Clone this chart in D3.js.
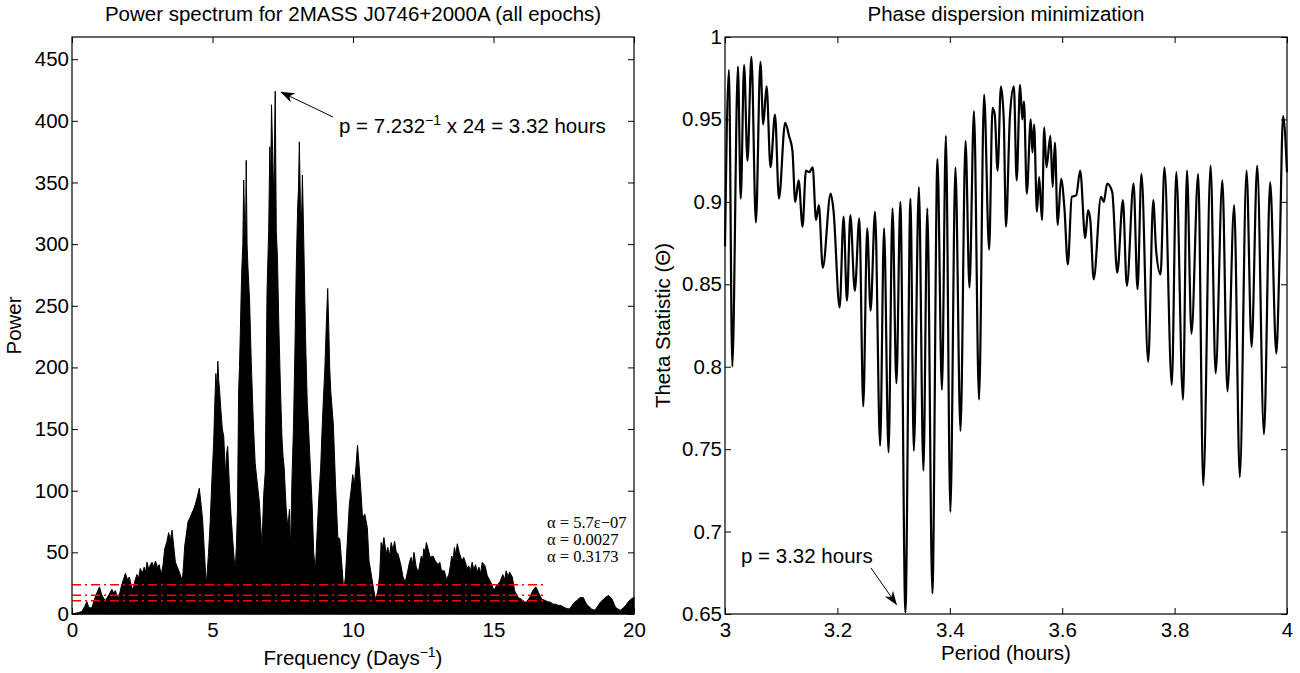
<!DOCTYPE html>
<html>
<head>
<meta charset="utf-8">
<script src="https://cdn.jsdelivr.net/npm/d3@7"></script>
<style>
  body { margin: 0; background: #fff; }
  text { font-family: "Liberation Sans", Arial, Helvetica, sans-serif; fill: #000; }
</style>
</head>
<body>
<script>
// 左圖: 功率譜 (frequency, power)
const specFreq = [0.00,0.20,0.35,0.45,0.53,0.60,0.71,0.80,0.90,0.98,1.05,1.12,1.19,1.30,1.42,1.48,1.54,1.60,1.66,1.75,
  1.83,1.90,1.97,2.04,2.10,2.17,2.24,2.31,2.37,2.43,2.50,2.57,2.62,2.67,2.73,2.79,2.85,2.91,2.97,3.04,
  3.10,3.18,3.24,3.30,3.37,3.44,3.50,3.56,3.62,3.68,3.75,3.82,3.88,3.93,3.97,4.01,4.07,4.13,4.20,4.27,
  4.33,4.39,4.46,4.53,4.58,4.65,4.70,4.74,4.78,4.80,4.86,4.92,4.98,5.04,5.08,5.12,5.16,5.19,5.22,5.25,
  5.30,5.35,5.40,5.46,5.50,5.54,5.58,5.61,5.66,5.72,5.77,5.81,5.85,5.89,5.93,5.96,5.99,6.02,6.05,6.08,
  6.11,6.14,6.17,6.20,6.23,6.26,6.32,6.38,6.46,6.52,6.58,6.67,6.72,6.76,6.82,6.88,6.91,6.94,7.00,7.04,
  7.07,7.10,7.14,7.18,7.232,7.27,7.31,7.36,7.41,7.47,7.51,7.55,7.62,7.68,7.74,7.78,7.83,7.88,7.93,7.98,
  8.03,8.06,8.09,8.13,8.17,8.20,8.25,8.31,8.37,8.42,8.46,8.55,8.60,8.66,8.72,8.79,8.85,8.90,8.94,9.00,
  9.05,9.10,9.14,9.17,9.21,9.30,9.38,9.46,9.53,9.61,9.67,9.73,9.80,9.87,9.93,9.99,10.05,10.11,10.16,10.20,
  10.28,10.34,10.42,10.51,10.57,10.63,10.72,10.80,10.88,10.95,11.00,11.05,11.10,11.18,11.24,11.30,11.36,11.42,11.48,11.54,
  11.60,11.70,11.78,11.86,11.95,12.01,12.07,12.12,12.17,12.25,12.33,12.43,12.48,12.52,12.57,12.61,12.67,12.75,12.85,12.93,
  13.03,13.09,13.15,13.25,13.33,13.41,13.47,13.51,13.56,13.61,13.66,13.71,13.78,13.88,13.94,14.00,14.06,14.12,14.18,14.24,
  14.30,14.36,14.42,14.48,14.54,14.60,14.70,14.78,14.90,15.02,15.08,15.14,15.23,15.33,15.40,15.45,15.52,15.57,15.67,15.75,
  15.87,15.99,16.08,16.17,16.29,16.42,16.51,16.60,16.72,16.84,16.93,17.03,17.12,17.21,17.30,17.39,17.51,17.60,17.70,17.80,
  17.88,17.97,18.06,18.19,18.31,18.40,18.49,18.61,18.73,18.82,18.92,19.01,19.10,19.22,19.34,19.43,19.52,19.62,19.71,19.80,
  19.89,20.00];
const specPower = [0,1,2,6,10,5,5,12,18,22,16,13,11,15,20,17,19,15,13,22,
  28,33,28,30,24,19,27,32,29,37,33,38,34,42,36,40,42,38,43,38,
  40,32,40,53,58,66,60,68,55,42,38,34,30,27,40,55,65,75,78,82,
  85,89,95,102,92,76,55,39,25,30,50,76,110,138,170,195,180,205,190,182,
  165,150,144,113,130,136,115,100,80,60,45,36,55,86,181,200,228,260,284,300,
  352,320,293,368,300,282,254,204,151,122,109,90,70,55,96,116,190,261,312,379,
  345,413,375,335,424,310,290,235,190,144,128,119,86,70,85,51,111,150,210,280,
  330,345,383,330,320,356,300,225,173,150,130,86,50,35,65,97,119,150,171,200,
  235,264,230,200,180,154,104,62,61,38,19,30,60,89,100,113,105,121,137,126,
  100,78,81,70,43,35,22,12,18,32,58,54,62,49,54,47,58,52,59,50,
  49,40,30,26,35,42,46,40,50,38,34,47,44,53,50,58,53,46,47,43,
  40,42,35,35,28,32,40,47,44,54,48,57,50,43,46,42,37,39,35,42,
  36,40,34,38,33,42,39,31,26,19,22,24,26,32,28,35,30,34,30,19,
  13.5,12,10,9.5,13.5,20,22,17.5,12,11,10,9.5,8,8,7,7,5.4,4.5,4,7,
  9.5,11,13,13.5,8,6,4,3,7,10,12,14,15,12,5.4,4,3,5,7,10,
  12,13.5];

// 顯著水準線 (alpha, power level)
const alphaLabels = ['α = 5.7ε−07', 'α = 0.0027', 'α = 0.3173'];
const alphaLevels = [23.7, 15.2, 10.8];
const alphaEndFreq = 16.9;

// 右圖: PDM (period in hours, theta)
const pdmPeriod = [3.000,3.007,3.013,3.023,3.028,3.034,3.040,3.047,3.055,3.063,3.068,3.074,3.081,3.089,3.096,3.107,3.114,3.120,3.125,3.131,
  3.138,3.144,3.150,3.156,3.162,3.167,3.174,3.188,3.193,3.204,3.211,3.217,3.223,3.231,3.239,3.246,3.253,3.259,3.267,3.276,
  3.283,3.291,3.298,3.305,3.312,3.321,3.330,3.336,3.345,3.353,3.360,3.369,3.378,3.386,3.393,3.401,3.410,3.419,3.428,3.435,
  3.443,3.452,3.461,3.470,3.476,3.480,3.485,3.491,3.496,3.500,3.507,3.514,3.519,3.525,3.529,3.532,3.537,3.544,3.547,3.550,
  3.555,3.559,3.564,3.568,3.572,3.579,3.583,3.587,3.592,3.598,3.604,3.610,3.617,3.625,3.632,3.641,3.646,3.650,3.656,3.669,
  3.674,3.680,3.689,3.698,3.708,3.715,3.727,3.734,3.741,3.753,3.762,3.767,3.775,3.782,3.795,3.803,3.815,3.822,3.830,3.842,
  3.851,3.864,3.873,3.885,3.894,3.906,3.916,3.928,3.937,3.947,3.959,3.970,3.981,3.987,3.993,4.000];
const pdmTheta = [0.873,0.980,0.800,0.982,0.902,0.983,0.925,0.988,0.8875,0.985,0.947,0.970,0.921,0.953,0.902,0.948,0.940,0.931,0.900,0.913,
  0.885,0.919,0.918,0.921,0.889,0.898,0.860,0.905,0.895,0.836,0.891,0.840,0.892,0.846,0.890,0.776,0.884,0.834,0.894,0.752,
  0.884,0.748,0.896,0.790,0.900,0.651,0.902,0.749,0.909,0.737,0.896,0.6625,0.926,0.786,0.940,0.712,0.921,0.761,0.937,0.848,
  0.955,0.780,0.965,0.871,0.957,0.953,0.919,0.970,0.950,0.885,0.952,0.970,0.913,0.971,0.950,0.961,0.905,0.950,0.930,0.947,
  0.894,0.915,0.889,0.945,0.921,0.940,0.909,0.936,0.886,0.914,0.896,0.862,0.903,0.904,0.919,0.878,0.895,0.889,0.853,0.903,
  0.900,0.911,0.906,0.857,0.901,0.849,0.911,0.847,0.917,0.803,0.901,0.871,0.856,0.921,0.789,0.918,0.780,0.919,0.820,0.917,
  0.728,0.922,0.796,0.913,0.785,0.898,0.733,0.919,0.812,0.922,0.759,0.912,0.808,0.870,0.952,0.918];

// 刻度
const specXTicks = [0, 5, 10, 15, 20];
const specYTicks = [0, 50, 100, 150, 200, 250, 300, 350, 400, 450];
const pdmXTicks = [3, 3.2, 3.4, 3.6, 3.8, 4];
const pdmYTicks = [0.65, 0.7, 0.75, 0.8, 0.85, 0.9, 0.95, 1];

const FONT = 20.5;
const svg = d3.select('body').append('svg').attr('width', 1300).attr('height', 673);

// arrow head marker
svg.append('defs').append('marker')
  .attr('id', 'head').attr('viewBox', '0 0 14 10')
  .attr('refX', 13).attr('refY', 5)
  .attr('markerWidth', 14).attr('markerHeight', 10)
  .attr('markerUnits', 'userSpaceOnUse').attr('orient', 'auto')
  .append('path').attr('d', 'M0,0 L14,5 L0,10 L4,5 Z').attr('fill', '#000');

const fmt = d => String(+d.toFixed(2));

// 畫座標框與刻度 (刻度朝內, 四邊)
function drawAxes(g, x, y, xt, yt, w, h) {
  g.append('g').attr('transform', `translate(0,${h})`)
    .call(d3.axisBottom(x).tickValues(xt).tickFormat(fmt).tickSizeInner(-6).tickSizeOuter(0).tickPadding(8));
  g.append('g')
    .call(d3.axisTop(x).tickValues(xt).tickFormat('').tickSizeInner(-6).tickSizeOuter(0));
  g.append('g')
    .call(d3.axisLeft(y).tickValues(yt).tickFormat(fmt).tickSizeInner(-6).tickSizeOuter(0).tickPadding(3));
  g.append('g').attr('transform', `translate(${w},0)`)
    .call(d3.axisRight(y).tickValues(yt).tickFormat('').tickSizeInner(-6).tickSizeOuter(0));
  g.selectAll('.domain').remove();
  g.selectAll('.tick line').attr('stroke', '#000');
  g.selectAll('.tick text').style('font-size', FONT + 'px').attr('fill', '#000');
  g.append('rect').attr('width', w).attr('height', h)
    .attr('fill', 'none').attr('stroke', '#000').attr('stroke-width', 1.2);
}

// ---------- 左圖 ----------
function drawSpectrum() {
  const m = {left: 72, top: 37}, w = 562, h = 577;
  const g = svg.append('g').attr('transform', `translate(${m.left},${m.top})`);
  const x = d3.scaleLinear().domain([0, 20]).range([0, w]);
  const y = d3.scaleLinear().domain([0, 468]).range([h, 0]);
  const data = specFreq.map((f, i) => ({f: f, p: specPower[i]}));

  g.append('path').datum(data)
    .attr('d', d3.area().x(d => x(d.f)).y0(h).y1(d => y(d.p)))
    .attr('fill', '#000').attr('stroke', '#000').attr('stroke-width', 1);

  // alpha levels
  g.selectAll('.alpha').data(alphaLevels).enter().append('line')
    .attr('x1', x(0)).attr('x2', x(alphaEndFreq))
    .attr('y1', d => y(d)).attr('y2', d => y(d))
    .attr('stroke', '#ff0000').attr('stroke-width', 1.5)
    .attr('stroke-dasharray', '9,4,2,4');

  drawAxes(g, x, y, specXTicks, specYTicks, w, h);

  g.selectAll('.alpha-label').data(alphaLabels).enter().append('text')
    .attr('x', 475).attr('y', (d, i) => 491 + i * 17)
    .style('font-family', '"Liberation Serif", "Times New Roman", serif')
    .style('font-size', '16.5px').text(d => d);

  // 峰值標註
  const pk = d3.greatestIndex(specPower);
  g.append('line')
    .attr('x1', 261).attr('y1', 80)
    .attr('x2', x(specFreq[pk]) + 6).attr('y2', y(specPower[pk]) + 1)
    .attr('stroke', '#000').attr('stroke-width', 1).attr('marker-end', 'url(#head)');
  const t = g.append('text').attr('x', 267).attr('y', 96).style('font-size', FONT + 'px');
  t.append('tspan').text('p = 7.232');
  t.append('tspan').attr('dy', -8).style('font-size', '14px').text('−1');
  t.append('tspan').attr('dy', 8).text(' x 24 = 3.32 hours');

  // title & labels
  svg.append('text').attr('x', m.left + w / 2).attr('y', 21).attr('text-anchor', 'middle')
    .style('font-size', FONT + 'px').text('Power spectrum for 2MASS J0746+2000A (all epochs)');
  const xl = svg.append('text').attr('x', m.left + w / 2).attr('y', 665).attr('text-anchor', 'middle')
    .style('font-size', FONT + 'px');
  xl.append('tspan').text('Frequency (Days');
  xl.append('tspan').attr('dy', -8).style('font-size', '14px').text('−1');
  xl.append('tspan').attr('dy', 8).text(')');
  svg.append('text').attr('transform', `translate(21,${m.top + h / 2}) rotate(-90)`)
    .attr('text-anchor', 'middle').style('font-size', FONT + 'px').text('Power');
}

// ---------- 右圖 ----------
function drawPDM() {
  const m = {left: 725, top: 37}, w = 562, h = 577;
  const g = svg.append('g').attr('transform', `translate(${m.left},${m.top})`);
  const x = d3.scaleLinear().domain([3, 4]).range([0, w]);
  const y = d3.scaleLinear().domain([0.65, 1]).range([h, 0]);
  const data = pdmPeriod.map((p, i) => ({p: p, t: pdmTheta[i]}));

  g.append('path').datum(data)
    .attr('d', d3.line().x(d => x(d.p)).y(d => y(d.t)).curve(d3.curveMonotoneX))
    .attr('fill', 'none').attr('stroke', '#000').attr('stroke-width', 2.2);

  drawAxes(g, x, y, pdmXTicks, pdmYTicks, w, h);

  // 最小值標註
  const mn = d3.leastIndex(pdmTheta);
  g.append('line')
    .attr('x1', 146).attr('y1', 531)
    .attr('x2', x(pdmPeriod[mn]) - 9).attr('y2', y(pdmTheta[mn]) - 8)
    .attr('stroke', '#000').attr('stroke-width', 1).attr('marker-end', 'url(#head)');
  g.append('text').attr('x', 16).attr('y', 526).style('font-size', FONT + 'px').text('p = 3.32 hours');

  svg.append('text').attr('x', m.left + w / 2).attr('y', 21).attr('text-anchor', 'middle')
    .style('font-size', FONT + 'px').text('Phase dispersion minimization');
  svg.append('text').attr('x', m.left + w / 2).attr('y', 660).attr('text-anchor', 'middle')
    .style('font-size', FONT + 'px').text('Period (hours)');
  svg.append('text').attr('transform', `translate(670,${m.top + h / 2}) rotate(-90)`)
    .attr('text-anchor', 'middle').style('font-size', FONT + 'px').text('Theta Statistic (Θ)');
}

drawSpectrum();
drawPDM();
</script>
</body>
</html>
